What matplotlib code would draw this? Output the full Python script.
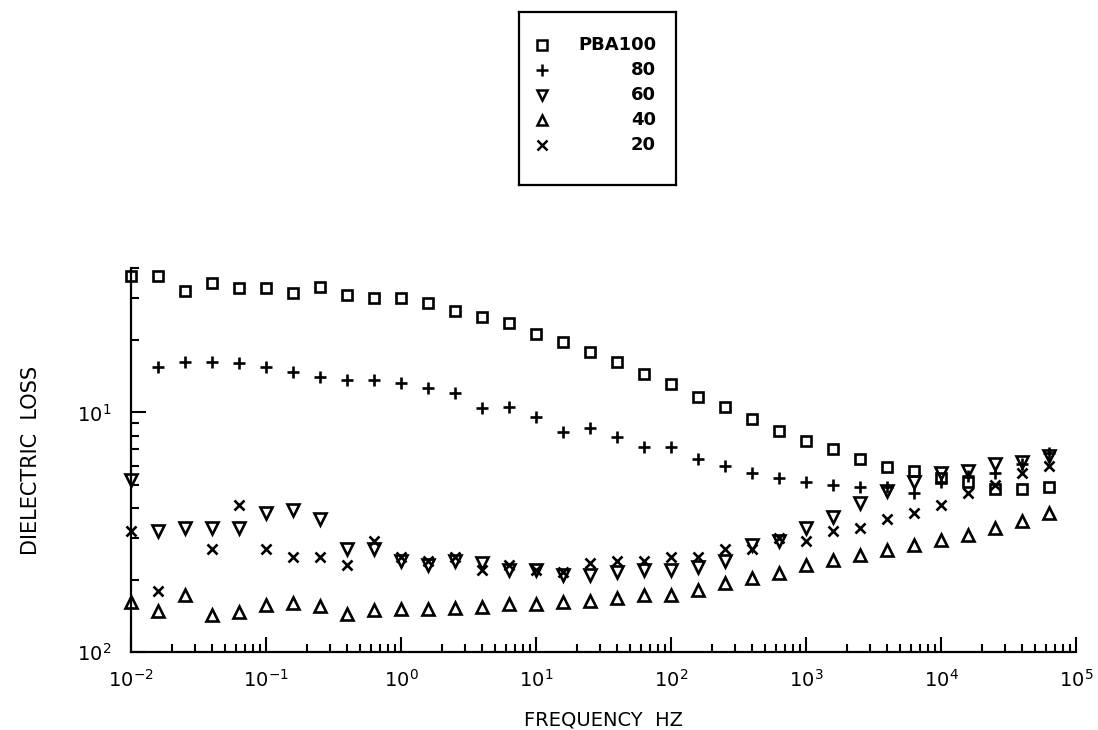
import numpy as np
import matplotlib
matplotlib.use("Agg")
import matplotlib.pyplot as plt
from matplotlib.ticker import FixedLocator, NullFormatter, LogLocator

plt.rcParams["font.family"] = ["DejaVu Sans"]

# ── data ────────────────────────────────────────────────────────────────────
freq = [0.01, 0.0158, 0.0251, 0.0398, 0.0631,
        0.1, 0.158, 0.251, 0.398, 0.631,
        1.0, 1.58, 2.51, 3.98, 6.31,
        10, 15.8, 25.1, 39.8, 63.1,
        100, 158, 251, 398, 631,
        1000, 1580, 2510, 3980, 6310,
        10000, 15800, 25100, 39800, 63100]

pba100 = [0.369, 0.369, 0.322, 0.348, 0.329, 0.329, 0.316, 0.332, 0.310, 0.301,
          0.299, 0.285, 0.264, 0.249, 0.237, 0.213, 0.196, 0.178, 0.162, 0.145,
          0.131, 0.116, 0.105, 0.094, 0.084, 0.076, 0.070, 0.064, 0.059, 0.057,
          0.053, 0.051, 0.048, 0.048, 0.049]
pba80 = [np.nan, 0.154, 0.163, 0.163, 0.160, 0.154, 0.147, 0.141, 0.137, 0.136,
         0.132, 0.126, 0.120, 0.104, 0.105, 0.096, 0.083, 0.086, 0.079, 0.072,
         0.072, 0.064, 0.060, 0.056, 0.053, 0.051, 0.050, 0.049, 0.049, 0.046,
         0.051, 0.054, 0.056, 0.061, 0.068]
pba60 = [0.052, 0.032, 0.033, 0.033, 0.033, 0.038, 0.039, 0.036, 0.027, 0.027,
         0.024, 0.023, 0.024, 0.0235, 0.022, 0.022, 0.021, 0.021, 0.0215, 0.022,
         0.022, 0.0226, 0.024, 0.028, 0.029, 0.033, 0.0365, 0.042, 0.047, 0.051,
         0.056, 0.057, 0.061, 0.062, 0.066]
pba40 = [0.0162, 0.0148, 0.0173, 0.0143, 0.0147, 0.0157, 0.0160, 0.0155, 0.0144, 0.0150,
         0.0151, 0.0151, 0.0153, 0.0154, 0.0158, 0.0158, 0.0162, 0.0163, 0.0168, 0.0173,
         0.0173, 0.0181, 0.0194, 0.0203, 0.0213, 0.0230, 0.0242, 0.0254, 0.0266, 0.0279,
         0.0293, 0.0307, 0.0329, 0.0351, 0.0379]
pba20 = [0.032, 0.018, np.nan, 0.027, 0.041, 0.027, 0.025, 0.025, 0.023, 0.029,
         0.025, 0.024, 0.025, 0.022, 0.023, 0.022, 0.0215, 0.0235, 0.024, 0.024,
         0.025, 0.025, 0.027, 0.027, 0.030, 0.029, 0.032, 0.033, 0.036, 0.038,
         0.041, 0.046, 0.050, 0.056, 0.060]

legend_labels = ["PBA100", "80", "60", "40", "20"]
x_tick_vals = [1e-2, 1e-1, 1e0, 1e1, 1e2, 1e3, 1e4, 1e5]
x_tick_text = ["10$^{-2}$", "10$^{-1}$", "10$^{0}$", "10$^{1}$",
               "10$^{2}$", "10$^{3}$", "10$^{4}$", "10$^{5}$"]
y_tick_vals = [0.01, 0.1]
y_tick_text = ["10$^2$", "10$^1$"]

# marker, size, open face?
styles = [("s", 7.5, True), ("+", 9, False), ("v", 8, True), ("^", 8, True), ("x", 7.5, False)]
all_series = [pba100, pba80, pba60, pba40, pba20]

# ── figure ──────────────────────────────────────────────────────────────────
fig = plt.figure(figsize=(10.98, 7.30), dpi=100)
ax = fig.add_axes([0.1193, 0.1068, 0.8607, 0.526])

for vals, (m, ms, hollow) in zip(all_series, styles):
    ax.plot(freq, vals, linestyle="none", marker=m, markersize=ms,
            markerfacecolor="none" if hollow else "black",
            markeredgecolor="black", markeredgewidth=1.9,
            clip_on=False, zorder=3)

ax.set_xscale("log")
ax.set_yscale("log")
ax.set_xlim(1e-2, 1e5)
ax.set_ylim(0.01, 0.4)

ax.spines["top"].set_visible(False)
ax.spines["right"].set_visible(False)
for s in ("left", "bottom"):
    ax.spines[s].set_linewidth(1.6)

ax.xaxis.set_major_locator(FixedLocator(x_tick_vals))
ax.set_xticklabels(x_tick_text)
ax.xaxis.set_minor_locator(LogLocator(base=10, subs=np.arange(2, 10), numticks=20))
ax.xaxis.set_minor_formatter(NullFormatter())

ax.yaxis.set_major_locator(FixedLocator(y_tick_vals))
ax.set_yticklabels(y_tick_text)
ax.yaxis.set_minor_locator(FixedLocator(
    [0.02, 0.03, 0.04, 0.05, 0.06, 0.07, 0.08, 0.09, 0.2, 0.3, 0.4]))
ax.yaxis.set_minor_formatter(NullFormatter())

ax.tick_params(axis="both", which="both", direction="in", width=1.5, colors="black")
ax.tick_params(axis="both", which="major", length=11, labelsize=14)
ax.tick_params(axis="both", which="minor", length=6)
ax.tick_params(axis="x", which="major", pad=12)
ax.tick_params(axis="y", which="major", pad=14)

ax.set_xlabel("FREQUENCY  HZ", fontsize=14, labelpad=14)
ax.set_ylabel("DIELECTRIC  LOSS", fontsize=15, labelpad=26)

# ── legend box drawn by hand (labels are right-aligned in the original) ────
lax = fig.add_axes([519 / 1098, 1 - 185 / 730, 157 / 1098, 173 / 730])
lax.set_xlim(0, 157)
lax.set_ylim(173, 0)
lax.set_xticks([])
lax.set_yticks([])
for s in lax.spines.values():
    s.set_linewidth(1.6)
for i, (lab, (m, ms, hollow)) in enumerate(zip(legend_labels, styles)):
    yy = 33 + 25 * i
    lax.plot([23], [yy], marker=m, markersize=ms * 0.9,
             markerfacecolor="none" if hollow else "black",
             markeredgecolor="black", markeredgewidth=1.8)
    lax.text(137, yy, lab, ha="right", va="center", fontsize=13, fontweight="bold")

plt.savefig("out.png", dpi=100)
plt.close()
